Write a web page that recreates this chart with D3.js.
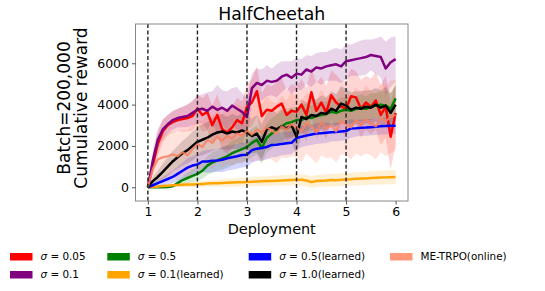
<!DOCTYPE html>
<html><head><meta charset="utf-8">
<script src="https://cdn.jsdelivr.net/npm/d3@7"></script>
<style>body{margin:0;background:#fff}svg{display:block}text{font-family:"DejaVu Sans",sans-serif}</style>
</head><body><svg id="c" width="545" height="291"></svg>
<script>
const deployments = [1.0,1.1,1.2,1.3,1.4,1.5,1.6,1.7,1.8,1.9,2.0,2.1,2.2,2.3,2.4,2.5,2.6,2.7,2.8,2.9,3.0,3.1,3.2,3.3,3.4,3.5,3.6,3.7,3.8,3.9,4.0,4.1,4.2,4.3,4.4,4.5,4.6,4.7,4.8,4.9,5.0,5.1,5.2,5.3,5.4,5.5,5.6,5.7,5.8,5.9,6.0];
const xTicks = [1,2,3,4,5,6];
const yTicks = [0,2000,4000,6000];
const dashedAt = [1,2,3,4,5];

const red = [0,1100,2100,2700,3000,3150,3250,3300,3350,3450,3800,3500,3650,3000,3500,2800,2650,2900,3250,3100,3900,4100,4650,3450,3750,3700,3900,4050,3500,3700,3650,4000,3500,4600,3700,4100,3600,4450,4100,3900,3800,4400,4350,3800,4100,3900,4200,3500,3900,2450,3600];
const purple = [0,1300,2300,2800,3050,3250,3350,3400,3450,3600,3750,3800,3700,3900,3750,3850,3700,3950,3800,3650,3400,4800,5050,4950,5150,5100,5150,5350,5450,5300,5500,5450,5700,5600,5800,5750,5850,5900,5950,5850,6100,6150,6200,6250,6300,6400,6350,6300,5750,6050,6200];
const green = [0,0,0,0,10,50,200,350,450,550,650,800,1050,1200,1300,1400,1500,1650,1750,1850,1950,2150,2300,1900,2400,2600,2800,2950,3100,3150,3250,3250,3400,3350,3450,3500,3550,3650,3600,3700,3750,3700,3800,3850,3800,3900,3950,4000,3950,3800,4300];
const orange = [0,20,40,60,80,100,110,120,130,140,150,165,180,190,200,210,220,230,240,250,260,270,280,290,300,310,320,330,340,350,360,360,330,250,300,320,330,350,340,370,380,390,410,420,430,450,460,470,480,490,500];
const blue = [0,100,200,300,400,500,650,800,950,1050,1100,1250,1250,1280,1300,1330,1400,1450,1500,1560,1580,1800,1870,1900,1950,2050,2060,2100,2130,2150,2380,2450,2500,2550,2600,2620,2640,2660,2680,2700,2720,2850,2860,2880,2890,2910,2930,2950,2960,2975,2980];
const black = [0,300,500,750,1000,1250,1450,1650,1800,2000,2200,2300,2400,2550,2650,2700,2600,2700,2650,2750,2650,2480,2600,2200,2800,2900,2800,2950,2850,3000,2450,3400,3300,3500,3450,3600,3550,3800,3700,4050,3950,3750,3850,3800,3900,3850,4000,3850,3950,3600,4000];
const metrpo = [0,900,1350,1450,1500,1600,1500,1700,1550,1850,2100,1950,2300,2150,2450,2250,2500,2350,2600,2500,2750,2550,2800,2650,2900,2750,2600,2950,2800,3050,2900,2700,3100,2950,2650,3150,2850,3000,2700,3200,3050,2900,3250,3000,3300,3100,2950,3350,3200,3400,3500];

const redSpread = [0,500,600,550,500,500,550,600,650,700,750,800,900,950,1000,1000,1050,1000,1100,1050,1100,1150,1200,1100,1250,1200,1150,1250,1200,1300,1200,1250,1300,1200,1350,1250,1300,1200,1350,1250,1300,1350,1250,1400,1300,1350,1400,1450,1500,1600,1500];
const purpleSpread = [0,500,500,500,450,450,450,500,550,600,650,700,900,750,1200,850,950,850,1050,900,950,700,700,750,750,650,800,750,650,800,750,750,700,750,700,800,700,750,800,800,850,750,800,850,850,750,850,1000,1300,1200,1100];
const greenSpread = [0,0,0,0,20,50,150,200,250,300,350,400,450,500,500,550,550,600,600,650,650,700,700,750,700,750,700,750,700,700,650,650,650,600,650,600,600,650,600,650,600,650,600,650,600,650,600,650,700,750,700];
const orangeSpread = [0,30,50,60,70,80,90,100,110,120,130,140,150,160,170,180,190,200,200,210,220,220,230,230,240,240,250,250,260,260,270,270,280,280,290,290,300,300,300,310,310,310,320,320,320,330,330,330,340,340,340];
const blueSpread = [0,100,150,200,250,300,350,400,450,450,500,500,550,550,550,600,600,600,600,600,600,600,600,600,600,600,600,550,550,550,550,500,500,500,500,500,500,450,450,450,450,450,400,400,400,400,400,400,400,400,400];
const blackSpread = [0,200,300,400,450,500,550,600,650,700,700,750,750,800,800,850,800,850,800,850,800,850,900,850,800,850,800,850,800,850,900,850,800,850,800,850,800,850,800,850,800,850,800,850,800,850,800,850,900,950,900];
const metrpoSpread = [0,700,1000,1100,1100,1100,1150,1100,1200,1150,1200,1250,1200,1300,1250,1300,1350,1300,1400,1350,1400,1350,1450,1400,1500,1400,1450,1500,1400,1550,1450,1500,1450,1550,1500,1600,1450,1550,1500,1600,1500,1550,1600,1500,1650,1550,1600,1650,1700,1750,1700];

const seriesNames = ["σ = 0.05","σ = 0.1","σ = 0.5","σ = 0.1(learned)","σ = 0.5(learned)","σ = 1.0(learned)","ME-TRPO(online)"];
const seriesColors = ["#ff0000","#800080","#008000","#ffa500","#0000ff","#000000","#fa8060"];
const bandColors = ["#ff0000","#800080","#008000","#ffa500","#0000ff","#000000","#ff8060"];
const seriesValues = [red,purple,green,orange,blue,black,metrpo];
const seriesSpreads = [redSpread,purpleSpread,greenSpread,orangeSpread,blueSpread,blackSpread,metrpoSpread];
const seriesWidths = [2.5,2.5,2.5,2.5,2.5,2.5,2.2];

const svg = d3.select("#c");
const L=135.5, R=408, T=24, B=201;
const x = d3.scaleLinear().domain([0.75,6.25]).range([L,R]);
const y = d3.scaleLinear().domain([-663,7900]).range([B,T]);

const g = svg.append("g");
svg.append("clipPath").attr("id","clp").append("rect").attr("x",L).attr("y",T).attr("width",R-L).attr("height",B-T);
const plot = g.append("g").attr("clip-path","url(#clp)");

seriesValues.forEach((vals,k)=>{
  const sp = seriesSpreads[k];
  const area = d3.area().x((d,i)=>x(deployments[i])).y0((d,i)=>y(vals[i]-sp[i])).y1((d,i)=>y(vals[i]+sp[i]));
  plot.append("path").datum(vals).attr("d",area).attr("fill",bandColors[k]).attr("fill-opacity",k===6?0.22:0.17).attr("stroke","none");
});
seriesValues.forEach((vals,k)=>{
  const line = d3.line().x((d,i)=>x(deployments[i])).y(d=>y(d));
  plot.append("path").datum(vals).attr("d",line).attr("fill","none").attr("stroke",seriesColors[k]).attr("stroke-width",seriesWidths[k]).attr("stroke-linejoin","round").attr("opacity",k===6?0.85:1);
});

dashedAt.forEach(d=>{
  g.append("line").attr("x1",x(d)).attr("x2",x(d)).attr("y1",T).attr("y2",B).attr("stroke","#222").attr("stroke-width",1.4).attr("stroke-dasharray","4,2.4");
});

g.append("rect").attr("x",L).attr("y",T).attr("width",R-L).attr("height",B-T).attr("fill","none").attr("stroke","#888").attr("stroke-width",1);

const xAxis = d3.axisBottom(x).tickValues(xTicks).tickSize(3.5).tickPadding(3).tickFormat(d3.format("d"));
const xg = g.append("g").attr("transform",`translate(0,${B})`).call(xAxis);
const yAxis = d3.axisLeft(y).tickValues(yTicks).tickSize(3.5).tickPadding(3).tickFormat(d3.format("d"));
const yg = g.append("g").attr("transform",`translate(${L},0)`).call(yAxis);
[xg,yg].forEach(a=>{
  a.select(".domain").remove();
  a.selectAll(".tick line").attr("stroke","#444").attr("stroke-width",0.9);
  a.selectAll(".tick text").attr("font-size",12.5).attr("fill","#000").attr("font-family","DejaVu Sans");
});

svg.append("text").attr("x",(L+R)/2).attr("y",19.5).attr("text-anchor","middle").attr("font-size",17.3).text("HalfCheetah");
svg.append("text").attr("x",(L+R)/2).attr("y",234).attr("text-anchor","middle").attr("font-size",14.4).text("Deployment");
const yl = svg.append("text").attr("transform",`translate(70,108) rotate(-90)`).attr("text-anchor","middle").attr("font-size",17);
yl.append("tspan").attr("x",0).attr("y",0).text("Batch=200,000");
yl.append("tspan").attr("x",0).attr("y",16.6).text("Cumulative reward");

const colX = [10,107.3,248.7,390];
const rowY = [253,271];
const legendCells = [[0,0],[0,1],[1,0],[1,1],[2,0],[2,1],[3,0]];
seriesNames.forEach((name,k)=>{
  const [c,r] = legendCells[k];
  const lg = svg.append("g").attr("transform",`translate(${colX[c]},${rowY[r]})`);
  lg.append("rect").attr("width",22.5).attr("height",7.5).attr("fill",k===6?"#ff9878":seriesColors[k]);
  const t = lg.append("text").attr("x",30.5).attr("y",7.4).attr("font-size",10.4);
  if(name.startsWith("σ")){
    t.append("tspan").attr("font-style","italic").text("σ");
    t.append("tspan").text(name.slice(1));
  } else t.text(name);
});
</script></body></html>
